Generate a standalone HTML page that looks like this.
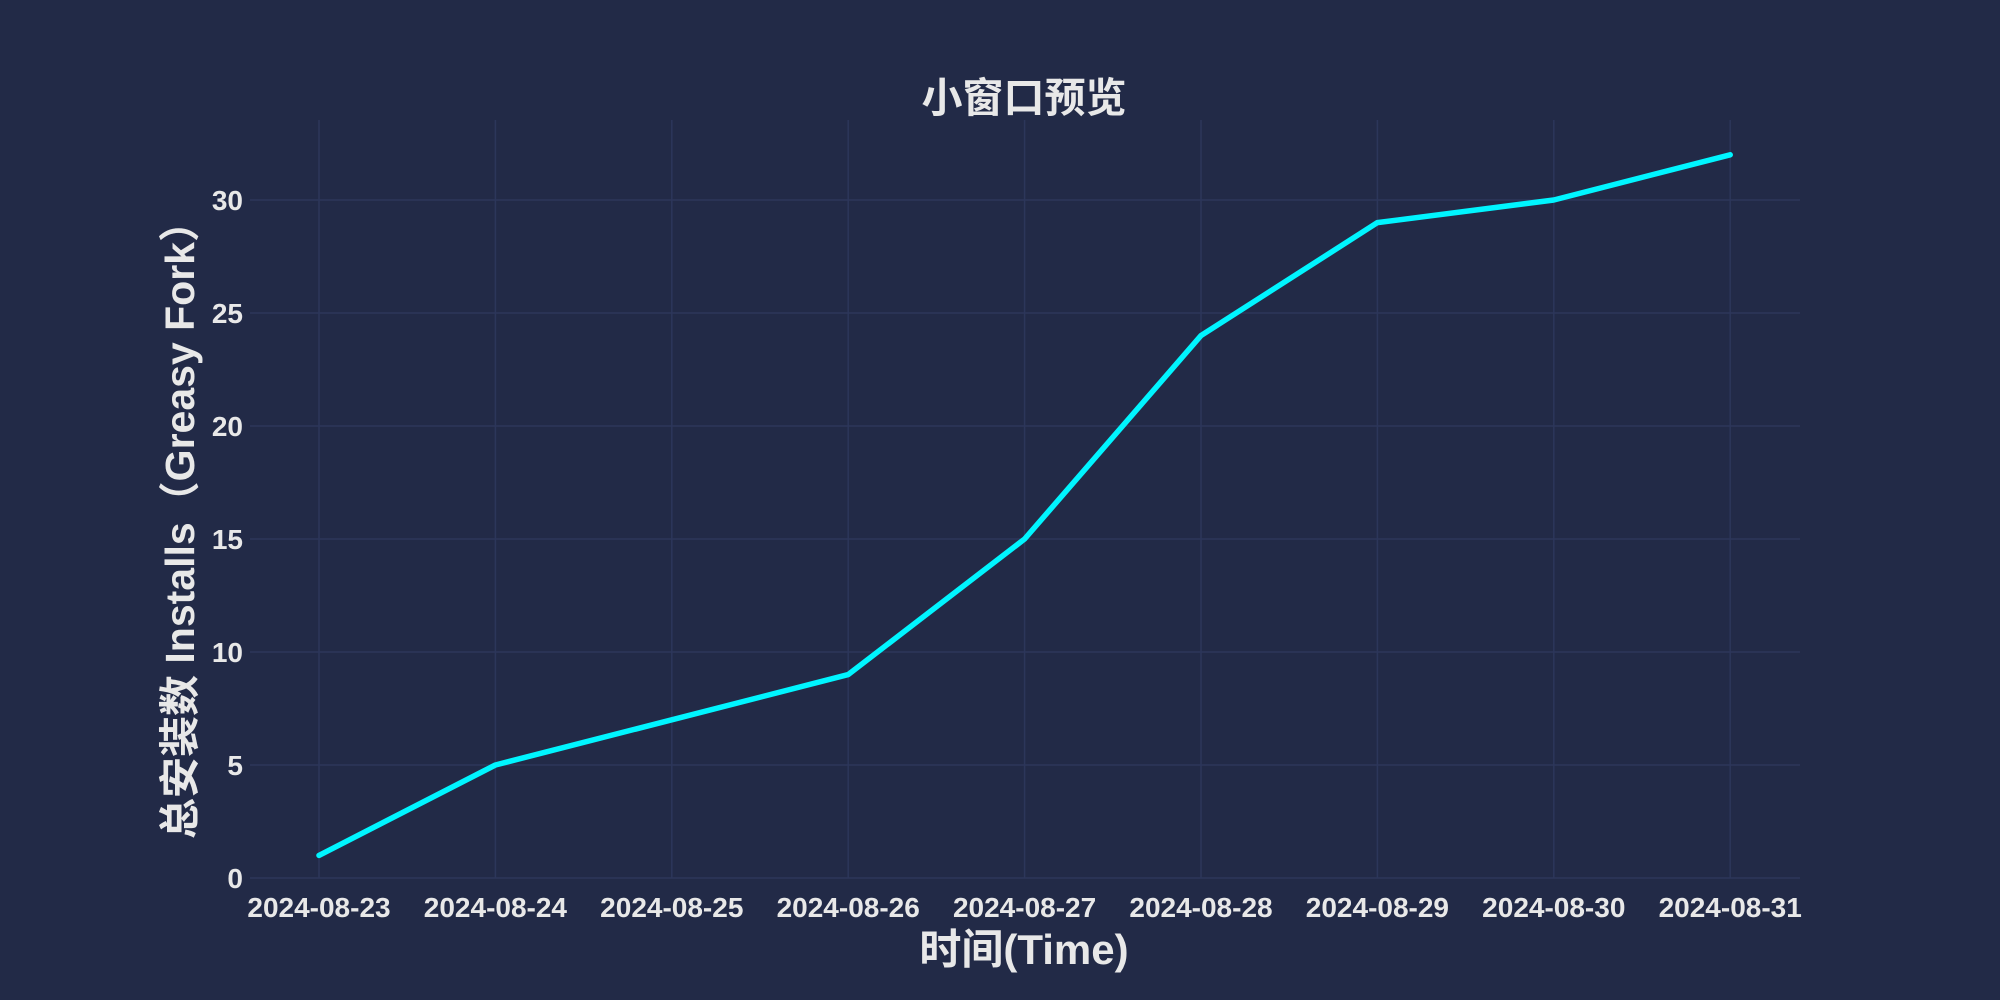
<!DOCTYPE html>
<html><head><meta charset="utf-8"><style>
html,body{margin:0;padding:0;background:#222a47;}
svg{display:block;font-family:"Liberation Sans","Noto Sans CJK SC",sans-serif;}
</style></head><body>
<svg id="chart" width="2000" height="1000">
<rect width="2000" height="1000" fill="#222a47"/>
<text x="1024" y="112" text-anchor="middle" font-size="41" font-weight="bold" fill="#e8e8e8">小窗口预览</text>
<g id="grid"></g>
<g id="ticks"></g>
<path id="line" fill="none" stroke="#00f5ff" stroke-width="5.5" stroke-linejoin="round" stroke-linecap="round"/>
<text x="1024" y="964" text-anchor="middle" font-size="42" font-weight="bold" fill="#e8e8e8">时间(Time)</text>
<text transform="translate(194,520) rotate(-90)" text-anchor="middle" font-size="41" font-weight="bold" fill="#e8e8e8">总安装数 Installs（Greasy Fork）</text>
</svg>
<script>
const categories=["2024-08-23","2024-08-24","2024-08-25","2024-08-26","2024-08-27","2024-08-28","2024-08-29","2024-08-30","2024-08-31"];
const values=[1,5,7,9,15,24,29,30,32];
const yTicks=[0,5,10,15,20,25,30];
const NS="http://www.w3.org/2000/svg";
const L=250,R=1800,T=120,B=878;
function xs(i){return 319+i*176.4;}
function ys(v){return 878-v*22.6;}
const grid=document.getElementById('grid'),ticks=document.getElementById('ticks');
function mk(tag,attrs,parent){const e=document.createElementNS(NS,tag);for(const k in attrs)e.setAttribute(k,attrs[k]);parent.appendChild(e);return e;}
categories.forEach((c,i)=>{
  const g=mk('line',{x1:xs(i),x2:xs(i),y1:T,y2:B,stroke:'#2c365a','stroke-width':1.5},grid);
  
  
  const t=mk('text',{x:xs(i),y:917,'text-anchor':'middle','font-size':28,'font-weight':'bold',fill:'#e8e8e8'},ticks);
  t.textContent=c;
  
  
});
yTicks.forEach(v=>{
  const g=mk('line',{x1:L,x2:R,y1:ys(v),y2:ys(v),stroke:'#2c365a','stroke-width':1.5},grid);
  
  
  const t=mk('text',{x:243,y:ys(v)+10,'text-anchor':'end','font-size':28,'font-weight':'bold',fill:'#e8e8e8'},ticks);
  t.textContent=v;
  
  
});
document.getElementById('line').setAttribute('d',values.map((v,i)=>(i?'L':'M')+xs(i)+','+ys(v)).join(' '));
</script>
</body></html>
